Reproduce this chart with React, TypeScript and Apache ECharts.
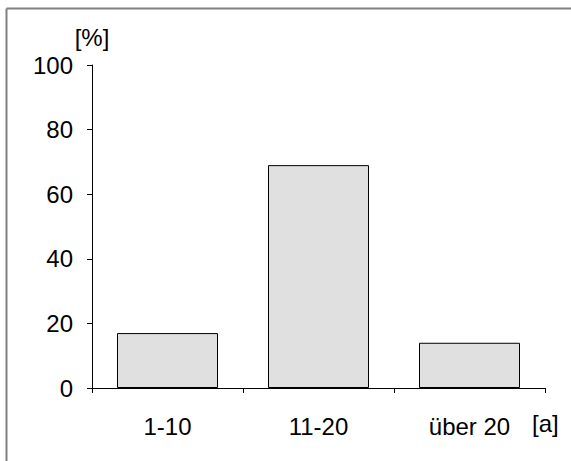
import React, { useEffect, useRef } from "react";
import * as echarts from "echarts";

const categories = ["1-10", "11-20", "über 20"];
const values = [17, 69, 14];
const yTicks = { min: 0, max: 100, interval: 20 };
const yName = "[%]";
const xName = "[a]";

export default function App() {
  const ref = useRef<HTMLDivElement>(null);
  useEffect(() => {
    const chart = echarts.init(ref.current!, null, { renderer: "svg" });
    const font = "'Liberation Sans', Arial, Helvetica, sans-serif";
    chart.setOption({
      animation: false,
      backgroundColor: "#ffffff",
      grid: { left: 92, right: 26, top: 65, bottom: 73, containLabel: false },
      xAxis: {
        type: "category",
        data: categories,
        axisLine: { lineStyle: { color: "#000", width: 1 } },
        axisTick: { show: true, length: 5, lineStyle: { color: "#000" } },
        axisLabel: { color: "#000", fontSize: 24, fontFamily: font, margin: 26 },
        splitLine: { show: false },
      },
      yAxis: {
        type: "value",
        min: yTicks.min,
        max: yTicks.max,
        interval: yTicks.interval,
        name: yName,
        nameLocation: "end",
        nameGap: 16,
        nameTextStyle: { color: "#000", fontSize: 24, fontFamily: font, align: "center" },
        axisLine: { show: true, lineStyle: { color: "#000", width: 1 } },
        axisTick: { show: true, length: 5, lineStyle: { color: "#000" } },
        axisLabel: { color: "#000", fontSize: 24, fontFamily: font, margin: 19 },
        splitLine: { show: false },
      },
      series: [
        {
          type: "bar",
          data: values,
          barWidth: 101,
          itemStyle: { color: "#e0e0e0", borderColor: "#000", borderWidth: 1 },
        },
      ],
      graphic: [
        { type: "line", shape: { x1: 6.5, y1: 8.5, x2: 571, y2: 8.5 }, style: { stroke: "#808080", lineWidth: 2 } },
        { type: "line", shape: { x1: 6.5, y1: 8.5, x2: 6.5, y2: 461 }, style: { stroke: "#808080", lineWidth: 2 } },
        {
          type: "text",
          x: 532,
          y: 423,
          style: { text: xName, fontSize: 24, fontFamily: font, fill: "#000", verticalAlign: "middle", align: "left" },
        },
      ],
    });
    return () => chart.dispose();
  }, []);
  return <div ref={ref} style={{ width: 571, height: 461, position: "absolute", left: 0, top: 0 }} />;
}
